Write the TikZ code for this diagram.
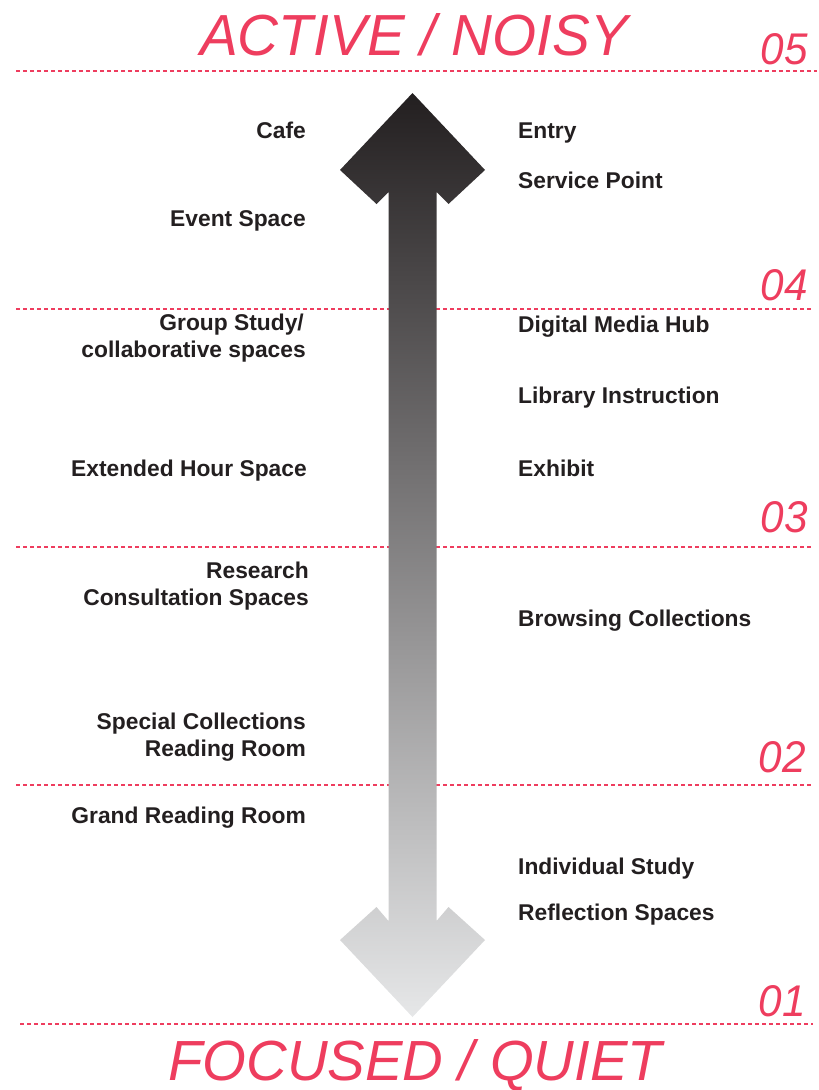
\documentclass[tikz,border=0pt]{standalone}
\usepackage{fontspec}
\setmainfont{Liberation Sans}
\usepackage{graphicx}
\definecolor{accent}{HTML}{EE3D5E}
\definecolor{ink}{HTML}{231F20}
\definecolor{arrowtop}{HTML}{231F20}
\definecolor{arrowbot}{HTML}{E6E7E8}
\begin{document}
\begin{tikzpicture}[x=1pt,y=-1pt,
  lab/.style={text=ink,font=\fontsize{22.8}{27}\selectfont\bfseries,inner sep=0pt},
  lableft/.style={lab,anchor=base east},
  labright/.style={lab,anchor=base west},
  level/.style={color=accent,dash pattern=on 4pt off 3pt,line width=1.2pt},
  num/.style={text=accent,inner sep=0pt,anchor=base east},
  titletext/.style={text=accent,inner sep=0pt,anchor=base west}]
\useasboundingbox (0,0) rectangle (819,1090);

% level lines
\coordinate (l5a) at (16,71);   \coordinate (l5b) at (817,71);
\coordinate (l4a) at (16,309);  \coordinate (l4b) at (812,309);
\coordinate (l3a) at (16,547);  \coordinate (l3b) at (812,547);
\coordinate (l2a) at (16,785);  \coordinate (l2b) at (812,785);
\coordinate (l1a) at (20,1024); \coordinate (l1b) at (813,1024);
\draw[level] (l5a) -- (l5b);
\draw[level] (l4a) -- (l4b);
\draw[level] (l3a) -- (l3b);
\draw[level] (l2a) -- (l2b);
\draw[level] (l1a) -- (l1b);

% titles
\node[titletext] (active) at (200,55) {\resizebox{428pt}{42pt}{\itshape ACTIVE / NOISY}};
\node[titletext] (focused) at (168,1080) {\resizebox{494pt}{41pt}{\itshape FOCUSED / QUIET}};

% level numbers
\node[num] (n5) at (808,64) {\resizebox{47pt}{31pt}{\itshape 05}};
\node[num] (n4) at (808,300) {\resizebox{47pt}{31pt}{\itshape 04}};
\node[num] (n3) at (808,532) {\resizebox{47pt}{31pt}{\itshape 03}};
\node[num] (n2) at (806,772) {\resizebox{47pt}{31pt}{\itshape 02}};
\node[num] (n1) at (806,1016) {\resizebox{47pt}{31pt}{\itshape 01}};

% double arrow
\shade[top color=arrowtop,bottom color=arrowbot]
  (412.5,93) -- (485,170) -- (448.5,204) -- (436.5,192)
  -- (436.5,921) -- (448.5,907) -- (485,940) -- (412.5,1017)
  -- (340,940) -- (376.5,907) -- (388.5,921)
  -- (388.5,192) -- (376.5,204) -- (340,170) -- cycle;

% left labels
\node[lableft] (cafe) at (306,138) {Cafe};
\node[lableft] (event) at (306,226) {Event Space};
\node[lableft] (group1) at (304,330) {Group Study/};
\node[lableft] (group2) at (306,357) {collaborative spaces};
\node[lableft] (ext) at (307,476) {Extended Hour Space};
\node[lableft] (res1) at (309,578) {Research};
\node[lableft] (res2) at (309,605) {Consultation Spaces};
\node[lableft] (spec1) at (306,729) {Special Collections};
\node[lableft] (spec2) at (306,756) {Reading Room};
\node[lableft] (grand) at (306,823) {Grand Reading Room};

% right labels
\node[labright] (entry) at (518,138) {Entry};
\node[labright] (service) at (518,188) {Service Point};
\node[labright] (digital) at (518,332) {Digital Media Hub};
\node[labright] (libinst) at (518,403) {Library Instruction};
\node[labright] (exhibit) at (518,476) {Exhibit};
\node[labright] (browse) at (518,626) {Browsing Collections};
\node[labright] (indiv) at (518,874) {Individual Study};
\node[labright] (reflect) at (518,920) {Reflection Spaces};
\end{tikzpicture}
\end{document}
